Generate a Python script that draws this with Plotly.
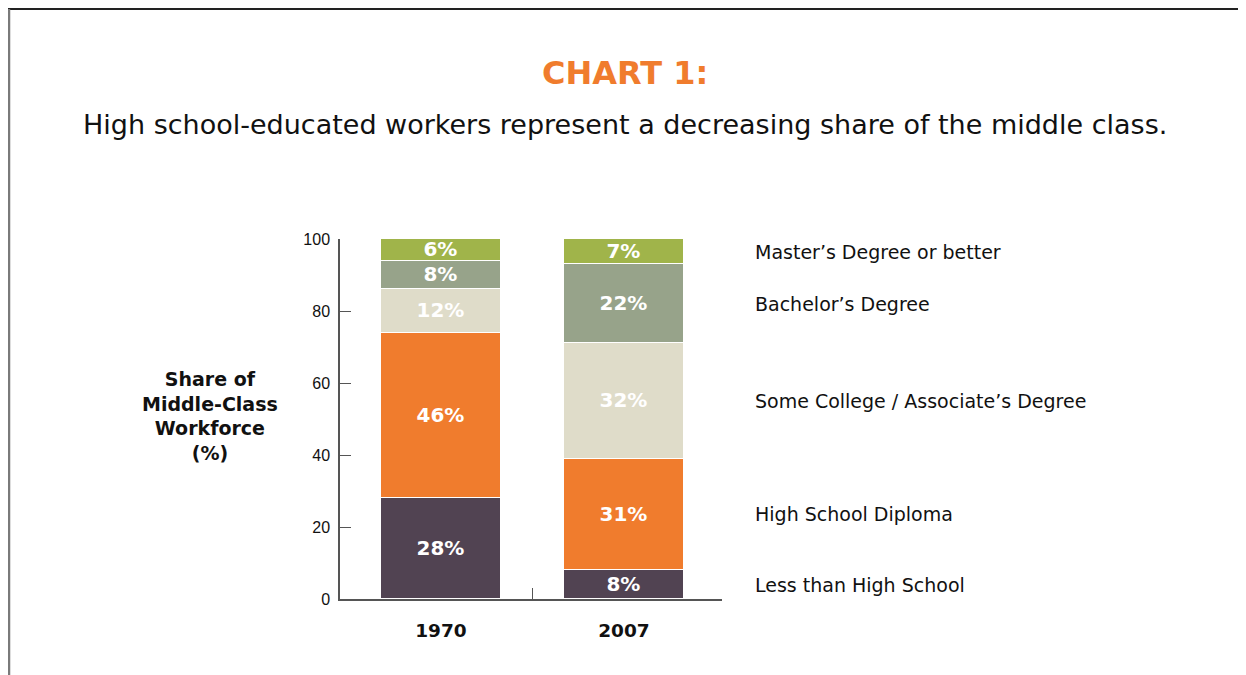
import plotly.graph_objects as go

years = ["1970", "2007"]
categories = [
    "Less than High School",
    "High School Diploma",
    "Some College / Associate\u2019s Degree",
    "Bachelor\u2019s Degree",
    "Master\u2019s Degree or better",
]
values_1970 = [28, 46, 12, 8, 6]
values_2007 = [8, 31, 32, 22, 7]
colors = ["#514352", "#F07C2D", "#DFDCC9", "#97A38A", "#A0B44A"]
y_ticks = [0, 20, 40, 60, 80, 100]

# page body has an 8px default margin; work in window pixel coordinates
OFF = 8
W, H = 1246 - OFF, 675 - OFF
L, R, T, B = 340 - OFF, 722 - OFF, 239 - OFF, 599 - OFF


def px_x(p):
    return (p - OFF - L) / (R - L)


def px_y(p):
    return (B - (p - OFF)) / (B - T)


fig = go.Figure()
xpos = [0, 1]
for i, cat in enumerate(categories):
    vals = [values_1970[i], values_2007[i]]
    fig.add_trace(go.Bar(
        x=xpos, y=vals, name=cat,
        marker=dict(color=colors[i], line=dict(color="white", width=1.2)),
        width=0.656,
        text=[f"{v}%" for v in vals],
        textposition="inside", insidetextanchor="middle",
        textfont=dict(family="DejaVu Sans", size=20, color="white", weight="bold"),
        textangle=0, constraintext="none",
        showlegend=False, hoverinfo="skip",
    ))

annotations = []
# right-hand category labels aligned to the 2007 segment centres
cum = 0
for cat, v in zip(categories, values_2007):
    annotations.append(dict(
        x=px_x(753), xref="paper", y=cum + v / 2, yref="y",
        text=cat, showarrow=False, xanchor="left", yanchor="middle",
        font=dict(family="DejaVu Sans", size=19, color="#111111"),
    ))
    cum += v

annotations += [
    dict(x=px_x(625), y=px_y(73), xref="paper", yref="paper", text="<b>CHART 1:</b>",
         showarrow=False, xanchor="center", yanchor="middle",
         font=dict(family="DejaVu Sans", size=32, color="#F07C2D")),
    dict(x=px_x(625), y=px_y(124), xref="paper", yref="paper",
         text="High school-educated workers represent a decreasing share of the middle class.",
         showarrow=False, xanchor="center", yanchor="middle",
         font=dict(family="DejaVu Sans", size=27, color="#111111")),
    dict(x=px_x(210), y=px_y(416), xref="paper", yref="paper",
         text="<b>Share of<br>Middle-Class<br>Workforce<br>(%)</b>",
         showarrow=False, xanchor="center", yanchor="middle", align="center",
         font=dict(family="DejaVu Sans", size=19, color="#111111")),
]

shapes = [
    dict(type="line", xref="paper", yref="paper",
         x0=px_x(8), x1=px_x(1250), y0=px_y(9), y1=px_y(9),
         line=dict(color="#222222", width=2)),
    dict(type="line", xref="paper", yref="paper",
         x0=px_x(9), x1=px_x(9), y0=px_y(9), y1=px_y(680),
         line=dict(color="#7a7a7a", width=2.5)),
]

fig.update_layout(
    width=W, height=H,
    margin=dict(l=L, r=W - R, t=T, b=H - B, pad=0),
    paper_bgcolor="white", plot_bgcolor="white",
    barmode="stack", bargap=0,
    annotations=annotations, shapes=shapes,
    xaxis=dict(
        range=[-0.552, 1.536], tickvals=xpos, ticktext=[f"<b>{y}</b>" for y in years],
        ticks="", showgrid=False, zeroline=False,
        showline=True, linecolor="#555555", linewidth=1.5,
        tickfont=dict(family="DejaVu Sans", size=18.5, color="#111111"),
        ticklabelstandoff=14,
        minor=dict(tickvals=[0.5], ticks="inside", ticklen=11, tickcolor="#555555",
                   tickwidth=1.2, showgrid=False),
        fixedrange=True,
    ),
    yaxis=dict(
        range=[0, 100], tickvals=y_ticks, ticks="inside", ticklen=11,
        tickcolor="#555555", tickwidth=1.2,
        showgrid=False, zeroline=False,
        showline=True, linecolor="#555555", linewidth=1.5,
        tickfont=dict(family="Liberation Sans", size=16, color="#111111"),
        ticklabelstandoff=5,
        fixedrange=True,
    ),
)

fig.write_html("out.html")
